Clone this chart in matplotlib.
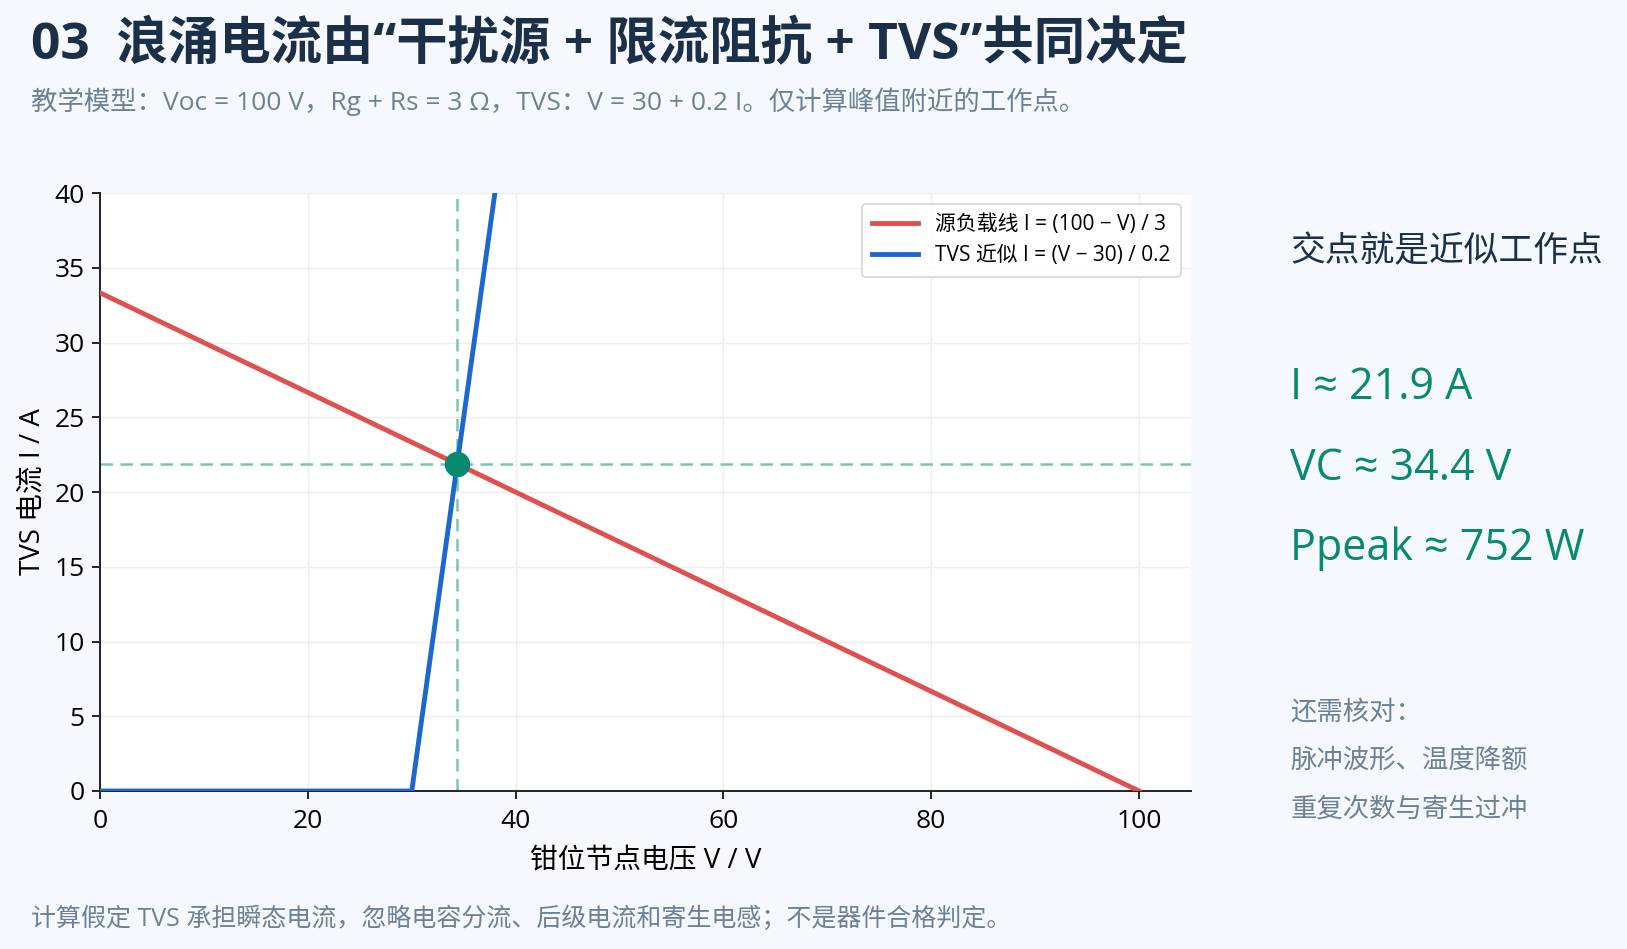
import matplotlib
matplotlib.use("Agg")
import matplotlib.pyplot as plt

plt.rcParams['font.family'] = ['Open Sans', 'Noto Sans CJK SC', 'DejaVu Sans']
plt.rcParams['axes.unicode_minus'] = False

# load line and TVS approximation
source_v = [0, 100]
source_i = [33.33, 0]
tvs_v = [0, 30, 40]
tvs_i = [0, 0, 50]
op_v = 34.375
op_i = 21.875

xticks = [0, 20, 40, 60, 80, 100]
yticks = [0, 5, 10, 15, 20, 25, 30, 35, 40]

result_lines = ["I ≈ 21.9 A", "VC ≈ 34.4 V", "Ppeak ≈ 752 W"]
check_lines = ["还需核对：", "脉冲波形、温度降额", "重复次数与寄生过冲"]

BG = '#f5f8fc'
NAVY = '#1b2f48'
GREY = '#6d8196'
GREEN = '#078a70'

fig = plt.figure(figsize=(16.27, 9.49), dpi=100, facecolor=BG)
ax = fig.add_axes([0.0615, 0.1665, 0.6705, 0.630])
ax.set_facecolor('white')

ax.plot(source_v, source_i, color='#e05050', lw=3.5,
        label='源负载线 I = (100 − V) / 3', zorder=3)
ax.plot(tvs_v, tvs_i, color='#1d68cf', lw=3.5,
        label='TVS 近似 I = (V − 30) / 0.2', zorder=3)
ax.axhline(op_i, color='#7cc5b2', lw=1.8, ls=(0, (5, 3)), zorder=2)
ax.axvline(op_v, color='#7cc5b2', lw=1.8, ls=(0, (5, 3)), zorder=2)
ax.scatter([op_v], [op_i], s=300, color=GREEN, zorder=5)

ax.set_xlim(0, 105)
ax.set_ylim(0, 40)
ax.set_xticks(xticks)
ax.set_yticks(yticks)
ax.tick_params(labelsize=19, length=6, width=1.2, pad=5)
ax.tick_params(axis='x', pad=7)
ax.grid(True, color='#eeeeee', lw=1)
ax.set_axisbelow(True)
for s in ['top', 'right']:
    ax.spines[s].set_visible(False)
for s in ['left', 'bottom']:
    ax.spines[s].set_linewidth(1.4)
    ax.spines[s].set_color('#222222')
ax.set_xlabel('钳位节点电压 V / V', fontsize=20, labelpad=9)
ax.set_ylabel('TVS 电流 I / A', fontsize=20, labelpad=6)

leg = ax.legend(loc='upper right', fontsize=15, frameon=True,
                handlelength=2.2, borderpad=0.5, labelspacing=0.5)
leg.get_frame().set_edgecolor('#cccccc')
leg.get_frame().set_linewidth(1.2)

fig.text(0.019, 0.951, '03  浪涌电流由“干扰源 + 限流阻抗 + TVS”共同决定',
         fontsize=37, fontweight='bold', color=NAVY, va='center')
fig.text(0.019, 0.893,
         '教学模型：Voc = 100 V，Rg + Rs = 3 Ω，TVS：V = 30 + 0.2 I。仅计算峰值附近的工作点。',
         fontsize=19, color=GREY, va='center')

fig.text(0.793, 0.734, '交点就是近似工作点', fontsize=25, color=NAVY, va='center')
for k, t in enumerate(result_lines):
    fig.text(0.793, 0.591 - k * 0.0845, t, fontsize=31, color=GREEN, va='center')
for k, t in enumerate(check_lines):
    fig.text(0.793, 0.249 - k * 0.0515, t, fontsize=19, color=GREY, va='center')

fig.text(0.019, 0.031,
         '计算假定 TVS 承担瞬态电流，忽略电容分流、后级电流和寄生电感；不是器件合格判定。',
         fontsize=18, color=GREY, va='center')

fig.savefig('out.png', dpi=100, facecolor=BG)
